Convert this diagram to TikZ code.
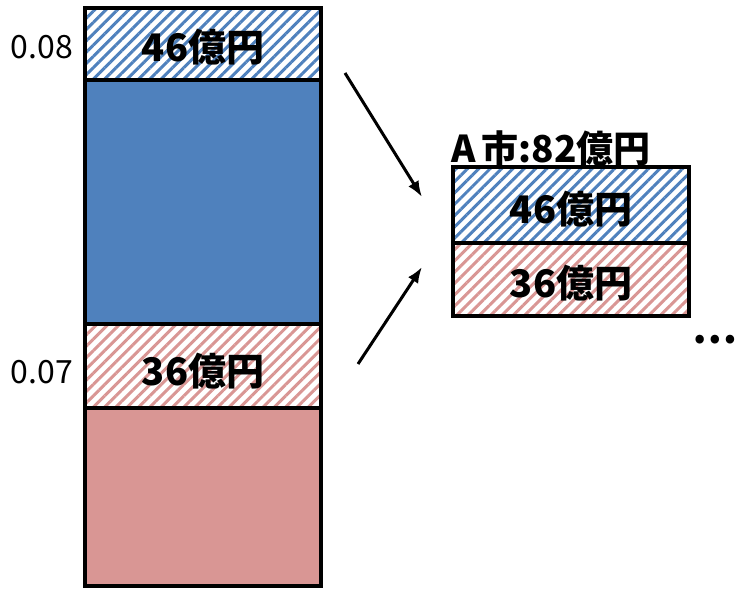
\documentclass[tikz,border=0pt]{standalone}
\usepackage{fontspec}
\setmainfont{Noto Sans CJK JP}
\usetikzlibrary{patterns.meta,arrows.meta}
\definecolor{cblue}{HTML}{4F81BD}
\definecolor{cred}{HTML}{D99694}
\tikzset{
  box/.style={rectangle,draw=black,line width=4pt,inner sep=0pt,minimum width=236pt},
  hblue/.style={box,pattern={Lines[angle=45,distance=8pt,line width=3pt]},pattern color=cblue},
  hred/.style={box,pattern={Lines[angle=45,distance=8pt,line width=3pt]},pattern color=cred},
  sblue/.style={box,fill=cblue},
  sred/.style={box,fill=cred},
  amt/.style={inner sep=0pt,font=\fontsize{38}{38}\selectfont\bfseries},
  lbl/.style={inner sep=0pt,font=\fontsize{32}{32}\selectfont},
  arr/.style={line width=3pt,-{Latex[length=16pt,width=12pt]}}
}
\begin{document}
\begin{tikzpicture}[x=1pt,y=-1pt]
\useasboundingbox (0,0) rectangle (740,591);
% left bar
\node[sblue,minimum height=244pt] (sb1) at (203,202) {};
\node[sred,minimum height=178pt] (sr1) at (203,497) {};
\node[hblue,minimum height=72pt] (hb1) at (203,44) {};
\node[hred,minimum height=84pt] (hr1) at (203,366) {};
\node[amt] (t1) at (203,47) {46億円};
\node[amt] (t2) at (203,371) {36億円};
\node[lbl] (l1) at (42,47) {0.08};
\node[lbl] (l2) at (42,372) {0.07};
% right box
\node[hblue,minimum height=76pt] (hb2) at (571,205) {};
\node[hred,minimum height=73pt] (hr2) at (571,279.5) {};
\node[amt] (t3) at (571,209) {46億円};
\node[amt] (t4) at (571,283) {36億円};
\node[font=\fontsize{37}{37}\selectfont\bfseries,inner sep=0pt,anchor=base west] (title) at (451,163) {A\,市:82億円};
\node[font=\fontsize{40}{40}\selectfont\bfseries,inner sep=0pt] (dots) at (715,340) {…};
% arrows
\coordinate (a1s) at (345,73);
\coordinate (a1e) at (422,197);
\coordinate (a2s) at (358,364);
\coordinate (a2e) at (422,267);
\draw[arr] (a1s) -- (a1e);
\draw[arr] (a2s) -- (a2e);
\end{tikzpicture}
\end{document}
